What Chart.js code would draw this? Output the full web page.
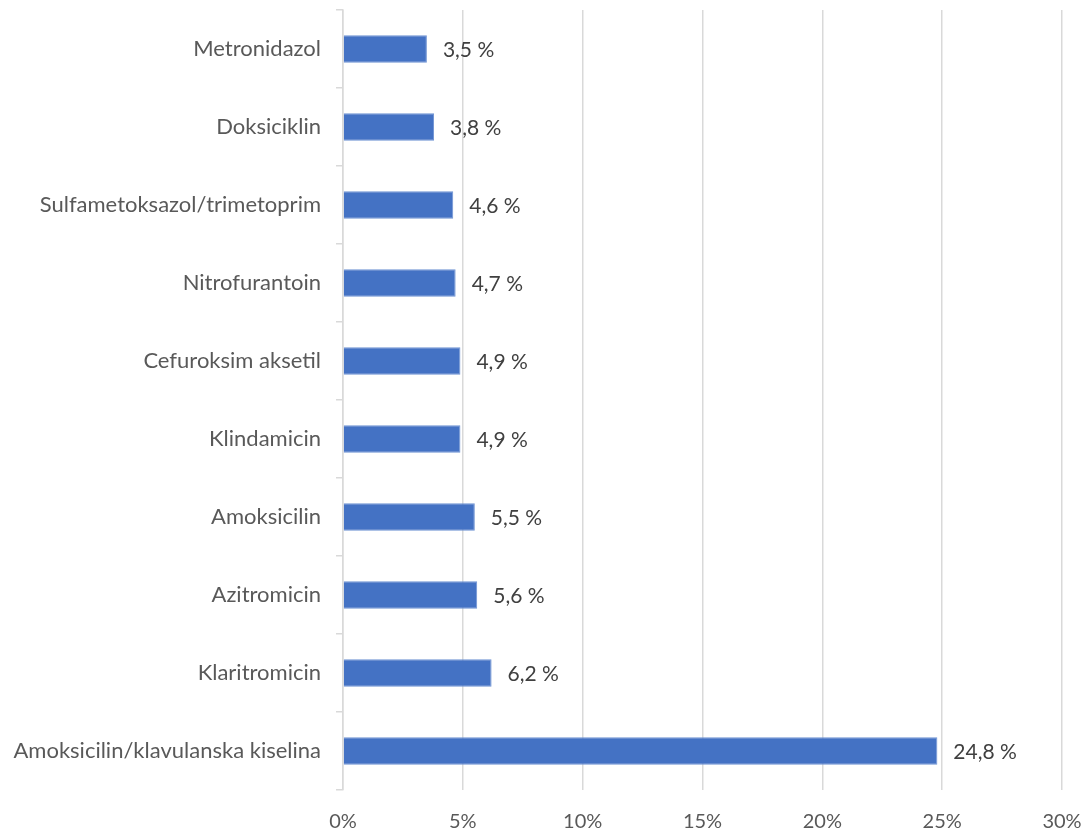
<!DOCTYPE html>
<html lang="hr">
<head>
    <meta charset="UTF-8">
    <title>Antibiotici</title>
    <script src="https://cdn.jsdelivr.net/npm/chart.js"></script>
    <style>
        html, body { margin: 0; padding: 0; background: #ffffff; }
        .chart-container { position: relative; width: 1089px; height: 834px; }
    </style>
</head>
<body>
    <div class="chart-container">
        <canvas id="abChart"></canvas>
    </div>

    <script>
        // Data
        const drugs = [
            'Metronidazol',
            'Doksiciklin',
            'Sulfametoksazol/trimetoprim',
            'Nitrofurantoin',
            'Cefuroksim aksetil',
            'Klindamicin',
            'Amoksicilin',
            'Azitromicin',
            'Klaritromicin',
            'Amoksicilin/klavulanska kiselina'
        ];
        const shares = [3.5, 3.8, 4.6, 4.7, 4.9, 4.9, 5.5, 5.6, 6.2, 24.8];
        const xTicks = [0, 5, 10, 15, 20, 25, 30];

        const fontFamily = 'Lato, "Open Sans", sans-serif';

        // writes "3,5 %" after each bar
        const valueLabels = {
            id: 'valueLabels',
            afterDatasetsDraw(chart) {
                const ctx = chart.ctx;
                const meta = chart.getDatasetMeta(0);
                ctx.save();
                ctx.font = '21px ' + fontFamily;
                ctx.fillStyle = '#404040';
                ctx.textAlign = 'left';
                ctx.textBaseline = 'middle';
                meta.data.forEach((bar, i) => {
                    const txt = shares[i].toFixed(1).replace('.', ',') + ' %';
                    ctx.fillText(txt, bar.x + 16, bar.y + 1);
                });
                ctx.restore();
            }
        };

        new Chart(document.getElementById('abChart').getContext('2d'), {
            type: 'bar',
            data: {
                labels: drugs,
                datasets: [{
                    data: shares,
                    backgroundColor: '#4472c4',
                    borderColor: '#6f93d3',
                    borderWidth: 1,
                    categoryPercentage: 1,
                    barPercentage: 0.35
                }]
            },
            options: {
                indexAxis: 'y',
                responsive: true,
                maintainAspectRatio: false,
                animation: false,
                layout: { padding: { top: 10, right: 27, left: 0, bottom: 0 } },
                plugins: {
                    legend: { display: false },
                    tooltip: { enabled: false }
                },
                scales: {
                    x: {
                        min: 0,
                        max: 30,
                        afterBuildTicks: (scale) => { scale.ticks = xTicks.map(v => ({ value: v })); },
                        afterFit: (scale) => {
                            scale.height = 44;
                            scale.paddingLeft = 0;
                            scale.paddingRight = 0;
                        },
                        grid: { color: '#d9d9d9', lineWidth: 1.5, drawTicks: false },
                        border: { display: false },
                        ticks: {
                            padding: 20,
                            color: '#595959',
                            font: { family: fontFamily, size: 20 },
                            callback: (v) => v + '%'
                        }
                    },
                    y: {
                        afterFit: (scale) => {
                            scale.width = 343;
                            scale.paddingTop = 0;
                            scale.paddingBottom = 0;
                        },
                        grid: {
                            offset: true,
                            drawOnChartArea: false,
                            tickLength: 7,
                            color: '#d9d9d9',
                            lineWidth: 1.5
                        },
                        border: { color: '#d9d9d9', width: 1.5 },
                        ticks: {
                            padding: 15,
                            color: '#595959',
                            font: { family: fontFamily, size: 22 }
                        }
                    }
                }
            },
            plugins: [valueLabels]
        });
    </script>
</body>
</html>
